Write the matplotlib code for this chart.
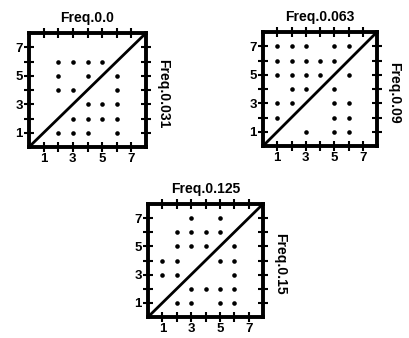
import matplotlib
matplotlib.use("Agg")
import matplotlib.pyplot as plt

plt.rcParams['font.family'] = ['Liberation Sans', 'DejaVu Sans']

titles = ["Freq.0.0", "Freq.0.063", "Freq.0.125"]
side_labels = ["Freq.0.031", "Freq.0.09", "Freq.0.15"]
tick_values = [1, 2, 3, 4, 5, 6, 7]
tick_labels = ["1", "", "3", "", "5", "", "7"]
diag = [0, 8]

p1_x = [2, 3, 4, 5, 2, 4, 6, 2, 3, 6, 4, 5, 6, 3, 4, 5, 6, 2, 3, 4, 6]
p1_y = [6, 6, 6, 6, 5, 5, 5, 4, 4, 4, 3, 3, 3, 2, 2, 2, 2, 1, 1, 1, 1]

p2_x = [1, 2, 3, 5, 6, 1, 2, 3, 4, 5, 1, 2, 3, 4, 6, 2, 3, 5, 1, 2, 5, 6, 1, 5, 6, 3, 5, 6]
p2_y = [7, 7, 7, 7, 7, 6, 6, 6, 6, 6, 5, 5, 5, 5, 5, 4, 4, 4, 3, 3, 3, 3, 2, 2, 2, 1, 1, 1]

p3_x = [3, 5, 2, 3, 4, 5, 2, 3, 4, 6, 1, 2, 5, 6, 1, 2, 6, 3, 4, 5, 6, 2, 3, 5, 6]
p3_y = [7, 7, 6, 6, 6, 6, 5, 5, 5, 5, 4, 4, 4, 4, 3, 3, 3, 2, 2, 2, 2, 1, 1, 1, 1]

points = [(p1_x, p1_y), (p2_x, p2_y), (p3_x, p3_y)]

W, H = 409, 338
fig = plt.figure(figsize=(W / 100, H / 100), dpi=100)
boxes = [(29, 33, 117, 114), (263, 32, 114, 114), (148, 204, 115, 113)]

for (l, t, w, h), title, side, (xs, ys) in zip(boxes, titles, side_labels, points):
    ax = fig.add_axes([l / W, 1 - (t + h) / H, w / W, h / H])
    ax.set_xlim(0, 8)
    ax.set_ylim(0, 8)
    ax.plot(diag, diag, color='black', lw=2.0, solid_capstyle='butt')
    ax.plot(xs, ys, 'o', color='black', ms=3.3, mew=0)
    for s in ax.spines.values():
        s.set_linewidth(2.8)
    ax.set_xticks(tick_values)
    ax.set_xticklabels(tick_labels)
    ax.set_yticks(tick_values)
    ax.set_yticklabels(tick_labels)
    ax.tick_params(direction='inout', length=7, width=1.5, top=True, right=True,
                   labelsize=9.5, pad=1.0)
    for lab in ax.get_xticklabels() + ax.get_yticklabels():
        lab.set_fontweight('bold')
    ax.text(0.5, 1.1, title, transform=ax.transAxes, ha='center', va='baseline',
            fontsize=10, fontweight='bold')
    ax.text(1.09, 0.47, side, transform=ax.transAxes, ha='left', va='center',
            rotation=270, fontsize=10, fontweight='bold')

fig.savefig("out.png", dpi=100)
